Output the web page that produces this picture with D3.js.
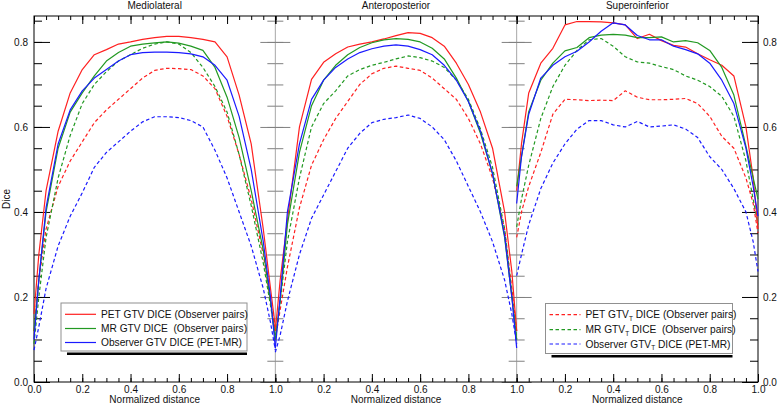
<!DOCTYPE html>
<html>
<head>
<meta charset="utf-8">
<script src="https://cdn.jsdelivr.net/npm/d3@7"></script>
<style>
html,body{margin:0;padding:0;background:#fff;}
svg{display:block;font-family:"Liberation Sans",Arial,Helvetica,sans-serif;}
text{white-space:pre;}
</style>
</head>
<body>
<svg id="chart" width="778" height="405"></svg>
<script>
// ---------------- DATA ----------------
const panelTitles = ["Mediolateral", "Anteroposterior", "Superoinferior"];
const xPos = [0, 0.02, 0.05, 0.1, 0.15, 0.2, 0.25, 0.3, 0.35, 0.4, 0.45, 0.5, 0.55, 0.6, 0.65, 0.7, 0.75, 0.8, 0.85, 0.9, 0.95, 0.98, 1.0];
const xTickMajor = [0, 0.2, 0.4, 0.6, 0.8, 1.0];
const yTickMajor = [0, 0.2, 0.4, 0.6, 0.8];
const yTickLabels = ["0.0", "0.2", "0.4", "0.6", "0.8"];
const seriesNames = [
  "PET GTV DICE (Observer pairs)",
  "MR GTV DICE  (Observer pairs)",
  "Observer GTV DICE (PET-MR)",
  "PET GTV|T| DICE (Observer pairs)",
  "MR GTV|T| DICE  (Observer pairs)",
  "Observer GTV|T| DICE (PET-MR)"
];

// Mediolateral
const mlPetGtv  = [0.16,0.30,0.45,0.59,0.68,0.735,0.77,0.782,0.795,0.80,0.806,0.81,0.813,0.813,0.81,0.806,0.80,0.765,0.675,0.56,0.36,0.22,0.13];
const mlMrGtv   = [0.12,0.24,0.40,0.55,0.635,0.68,0.72,0.755,0.775,0.79,0.795,0.798,0.80,0.797,0.79,0.78,0.74,0.67,0.575,0.45,0.31,0.19,0.10];
const mlObsGtv  = [0.10,0.24,0.41,0.56,0.64,0.685,0.715,0.735,0.755,0.77,0.775,0.776,0.776,0.775,0.772,0.765,0.745,0.71,0.625,0.50,0.33,0.20,0.08];
const mlPetGtvT = [0.12,0.24,0.36,0.46,0.52,0.565,0.61,0.64,0.665,0.69,0.715,0.733,0.738,0.737,0.735,0.72,0.69,0.625,0.535,0.43,0.30,0.19,0.12];
const mlMrGtvT  = [0.09,0.20,0.34,0.48,0.58,0.655,0.70,0.73,0.755,0.77,0.785,0.795,0.80,0.795,0.775,0.74,0.695,0.635,0.535,0.415,0.28,0.18,0.11];
const mlObsGtvT = [0.075,0.13,0.22,0.32,0.39,0.445,0.505,0.54,0.565,0.59,0.612,0.624,0.624,0.622,0.615,0.60,0.545,0.48,0.40,0.32,0.22,0.14,0.075];

// Anteroposterior
const apPetGtv  = [0.12,0.24,0.38,0.60,0.712,0.752,0.772,0.788,0.795,0.80,0.807,0.815,0.822,0.82,0.81,0.79,0.75,0.70,0.635,0.55,0.40,0.26,0.12];
const apMrGtv   = [0.10,0.19,0.37,0.54,0.65,0.71,0.745,0.77,0.787,0.798,0.805,0.808,0.806,0.80,0.785,0.76,0.715,0.66,0.585,0.49,0.34,0.20,0.10];
const apObsGtv  = [0.08,0.20,0.40,0.56,0.665,0.71,0.74,0.76,0.775,0.784,0.79,0.793,0.79,0.782,0.77,0.745,0.71,0.66,0.59,0.49,0.345,0.20,0.08];
const apPetGtvT = [0.10,0.17,0.27,0.41,0.51,0.57,0.62,0.66,0.70,0.725,0.738,0.743,0.738,0.733,0.715,0.69,0.665,0.62,0.56,0.48,0.36,0.22,0.12];
const apMrGtvT  = [0.10,0.19,0.33,0.48,0.60,0.655,0.685,0.72,0.735,0.745,0.752,0.76,0.767,0.763,0.755,0.74,0.71,0.665,0.595,0.505,0.36,0.21,0.10];
const apObsGtvT = [0.07,0.11,0.19,0.30,0.385,0.44,0.495,0.55,0.585,0.61,0.618,0.622,0.628,0.62,0.60,0.57,0.52,0.46,0.40,0.33,0.24,0.16,0.09];

// Superoinferior
const siPetGtv  = [0.45,0.56,0.68,0.75,0.785,0.84,0.848,0.848,0.847,0.845,0.84,0.808,0.818,0.803,0.792,0.788,0.772,0.758,0.745,0.72,0.60,0.48,0.36];
const siMrGtv   = [0.46,0.53,0.636,0.71,0.75,0.779,0.787,0.81,0.816,0.818,0.816,0.81,0.81,0.812,0.80,0.803,0.798,0.78,0.74,0.675,0.555,0.48,0.43];
const siObsGtv  = [0.42,0.53,0.63,0.715,0.745,0.765,0.778,0.80,0.825,0.845,0.84,0.815,0.805,0.805,0.79,0.782,0.772,0.75,0.71,0.655,0.55,0.46,0.39];
const siPetGtvT = [0.34,0.40,0.46,0.54,0.63,0.665,0.664,0.662,0.663,0.662,0.685,0.67,0.664,0.664,0.665,0.667,0.655,0.625,0.578,0.55,0.48,0.42,0.35];
const siMrGtvT  = [0.365,0.43,0.51,0.62,0.695,0.745,0.78,0.805,0.808,0.79,0.765,0.753,0.75,0.742,0.735,0.72,0.71,0.695,0.672,0.625,0.52,0.43,0.37];
const siObsGtvT = [0.25,0.30,0.37,0.455,0.515,0.56,0.595,0.615,0.615,0.605,0.60,0.613,0.60,0.602,0.605,0.595,0.575,0.53,0.50,0.455,0.40,0.33,0.26];

// ---------------- LAYOUT ----------------
const panels = [
  [mlPetGtv, mlMrGtv, mlObsGtv, mlPetGtvT, mlMrGtvT, mlObsGtvT],
  [apPetGtv, apMrGtv, apObsGtv, apPetGtvT, apMrGtvT, apObsGtvT],
  [siPetGtv, siMrGtv, siObsGtv, siPetGtvT, siMrGtvT, siObsGtvT]
];
const colors = ["#ff2020", "#229922", "#1a1aff", "#ff2020", "#229922", "#1a1aff"];
const dashed = [false, false, false, true, true, true];

const L = 34, R = 758, T = 16, B = 382;
const pw = (R - L) / 3;
const yMax = 0.861;
const svg = d3.select("#chart");
const y = d3.scaleLinear().domain([0, yMax]).range([B, T]);
const xs = [0, 1, 2].map(k => d3.scaleLinear().domain([0, 1]).range([L + pw * k, L + pw * (k + 1)]));
const minorX = d3.range(0, 1.0001, 0.05).map(v => +v.toFixed(2));
const minorY = d3.range(0, yMax, 0.05).map(v => +v.toFixed(2));
const fmt = d3.format(".1f");
const font = 10;

function styleAxis(g, color) {
  g.select(".domain").remove();
  g.selectAll("line").attr("stroke", color).attr("stroke-width", 1);
  g.selectAll("text").attr("fill", "#111").attr("font-size", font).attr("font-family", null);
}

// dividers
[1, 2].forEach(k => {
  const xd = L + pw * k;
  svg.append("line").attr("x1", xd).attr("x2", xd).attr("y1", T).attr("y2", B)
    .attr("stroke", "#a8a8a8").attr("stroke-width", 1);
  [[d3.axisLeft, 15, yTickMajor], [d3.axisRight, 15, yTickMajor], [d3.axisLeft, 8, minorY], [d3.axisRight, 8, minorY]].forEach(([ax, s, vals]) => {
    const g = svg.append("g").attr("transform", `translate(${xd},0)`)
      .call(ax(y).tickValues(vals).tickSize(s).tickFormat(""));
    styleAxis(g, "#808080");
  });
});

// x axes
xs.forEach((x, k) => {
  const majors = k === 0 ? xTickMajor : xTickMajor.slice(1);
  let g = svg.append("g").attr("transform", `translate(0,${B})`)
    .call(d3.axisBottom(x).tickValues(majors).tickSizeInner(-8).tickSizeOuter(0).tickPadding(4).tickFormat(fmt));
  styleAxis(g, "#000");
  g = svg.append("g").attr("transform", `translate(0,${B})`)
    .call(d3.axisBottom(x).tickValues(minorX).tickSizeInner(-4).tickSizeOuter(0).tickFormat(""));
  styleAxis(g, "#000");
  g = svg.append("g").attr("transform", `translate(0,${T})`)
    .call(d3.axisTop(x).tickValues(xTickMajor).tickSizeInner(-8).tickSizeOuter(0).tickFormat(""));
  styleAxis(g, "#000");
  g = svg.append("g").attr("transform", `translate(0,${T})`)
    .call(d3.axisTop(x).tickValues(minorX).tickSizeInner(-4).tickSizeOuter(0).tickFormat(""));
  styleAxis(g, "#000");

  svg.append("text").attr("x", (x.range()[0] + x.range()[1]) / 2).attr("y", 403)
    .attr("text-anchor", "middle").attr("font-size", 10).attr("fill", "#111").text("Normalized distance");
  svg.append("text").attr("x", (x.range()[0] + x.range()[1]) / 2).attr("y", 8.5)
    .attr("text-anchor", "middle").attr("font-size", 10).attr("fill", "#111").text(panelTitles[k]);
});

// y axes
let gy = svg.append("g").attr("transform", `translate(${L},0)`)
  .call(d3.axisLeft(y).tickValues(yTickMajor).tickSizeInner(-16).tickSizeOuter(0).tickPadding(6).tickFormat((d, i) => yTickLabels[i]));
styleAxis(gy, "#000");
gy = svg.append("g").attr("transform", `translate(${L},0)`)
  .call(d3.axisLeft(y).tickValues(minorY).tickSizeInner(-8).tickSizeOuter(0).tickFormat(""));
styleAxis(gy, "#000");
gy = svg.append("g").attr("transform", `translate(${R},0)`)
  .call(d3.axisRight(y).tickValues(yTickMajor).tickSizeInner(-16).tickSizeOuter(0).tickPadding(5).tickFormat((d, i) => yTickLabels[i]));
styleAxis(gy, "#000");
gy = svg.append("g").attr("transform", `translate(${R},0)`)
  .call(d3.axisRight(y).tickValues(minorY).tickSizeInner(-8).tickSizeOuter(0).tickFormat(""));
styleAxis(gy, "#000");

svg.append("text").attr("transform", `translate(10,${(T + B) / 2}) rotate(-90)`)
  .attr("text-anchor", "middle").attr("font-size", 10).attr("fill", "#111").text("Dice");

// frame
svg.append("rect").attr("x", L).attr("y", T).attr("width", R - L).attr("height", B - T)
  .attr("fill", "none").attr("stroke", "#000").attr("stroke-width", 1);

// curves
panels.forEach((series, k) => {
  const x = xs[k];
  const line = d3.line().x((d, i) => x(xPos[i])).y(d => y(d));
  [3, 4, 5, 0, 1, 2].forEach(s => {
    svg.append("path").datum(series[s]).attr("d", line)
      .attr("fill", "none").attr("stroke", colors[s]).attr("stroke-width", 1.2)
      .attr("stroke-linejoin", "round")
      .attr("stroke-dasharray", dashed[s] ? "3.5,2.5" : null);
  });
});

// legends
function legend(bx, by, bw, bh, rows, idx) {
  const g = svg.append("g");
  g.append("rect").attr("x", bx + 6).attr("y", by + bh + 1.5).attr("width", bw - 6).attr("height", 2.5).attr("fill", "#000");
  g.append("rect").attr("x", bx).attr("y", by).attr("width", bw).attr("height", bh)
    .attr("fill", "#fff").attr("stroke", "#909090").attr("stroke-width", 1);
  idx.forEach((s, i) => {
    const ry = rows[i];
    g.append("line").attr("x1", bx + 4).attr("x2", bx + 35).attr("y1", ry).attr("y2", ry)
      .attr("stroke", colors[s]).attr("stroke-width", 1.2).attr("stroke-dasharray", dashed[s] ? "3.5,2.5" : null);
    const parts = seriesNames[s].split("|");
    const t = g.append("text").attr("x", bx + 40).attr("y", ry + 3.7).attr("font-size", 10.2).attr("fill", "#111");
    t.append("tspan").text(parts[0]);
    if (parts.length > 1) {
      t.append("tspan").attr("font-size", 6.5).attr("dy", 2.5).text(parts[1]);
      t.append("tspan").attr("dy", -2.5).text(parts[2]);
    }
  });
}
legend(61, 303, 186, 48, [314.3, 328.5, 342.5], [0, 1, 2]);
legend(545.5, 303.5, 187, 50, [314.7, 329.7, 344], [3, 4, 5]);
</script>
</body>
</html>
